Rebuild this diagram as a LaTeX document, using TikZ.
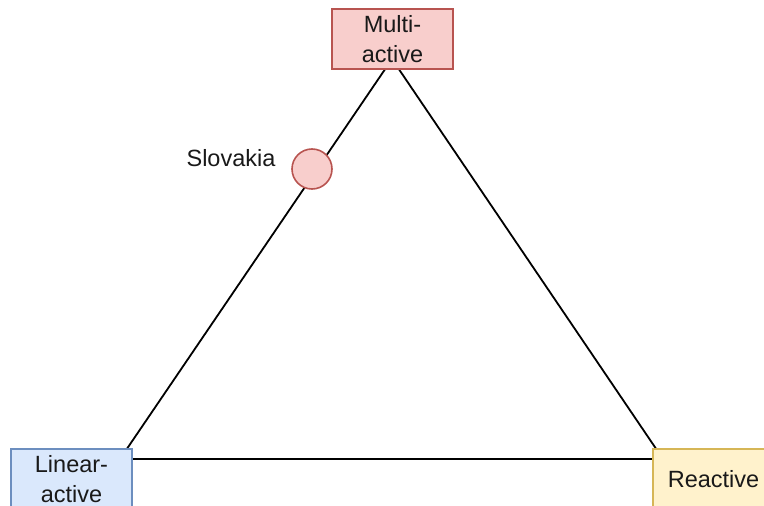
\documentclass[tikz,border=0pt]{standalone}
\usepackage{fontspec}
\setmainfont{Liberation Sans}
\begin{document}
\begin{tikzpicture}[x=1pt,y=-1pt,
  edge/.style={draw=black, line width=1.8pt},
  label/.style={font=\fontsize{23.5}{30}\selectfont, text=black!90},
  corner/.style={label, draw, line width=1.6pt, minimum width=121pt, minimum height=60pt,
    inner sep=0pt, align=center},
  redbox/.style={corner, fill={rgb,255:red,248;green,206;blue,204}, draw={rgb,255:red,184;green,84;blue,80}},
  bluebox/.style={corner, fill={rgb,255:red,218;green,232;blue,252}, draw={rgb,255:red,108;green,142;blue,191}},
  yellowbox/.style={corner, fill={rgb,255:red,255;green,242;blue,204}, draw={rgb,255:red,214;green,182;blue,86}},
  marker/.style={circle, minimum size=40pt, inner sep=0pt, line width=1.6pt,
    fill={rgb,255:red,248;green,206;blue,204}, draw={rgb,255:red,184;green,84;blue,80}}]
  \useasboundingbox (0,0) rectangle (764,506);

  % triangle corners
  \coordinate (apex) at (392,59);
  \coordinate (lcorner) at (120,459);
  \coordinate (rcorner) at (663,459);

  \draw[edge] (apex) -- (lcorner) -- (rcorner) -- cycle;

  % vertex boxes
  \node[redbox] (multi) at (392.5,39) {Multi-\\active};
  \node[bluebox] (linear) at (71.5,479) {Linear-\\active};
  \node[yellowbox] (reactive) at (713.5,479) {Reactive};

  % country marker
  \node[marker] (sk) at (312,169) {};
  \node[label, anchor=base] (sklabel) at (231,166.5) {Slovakia};
\end{tikzpicture}
\end{document}
